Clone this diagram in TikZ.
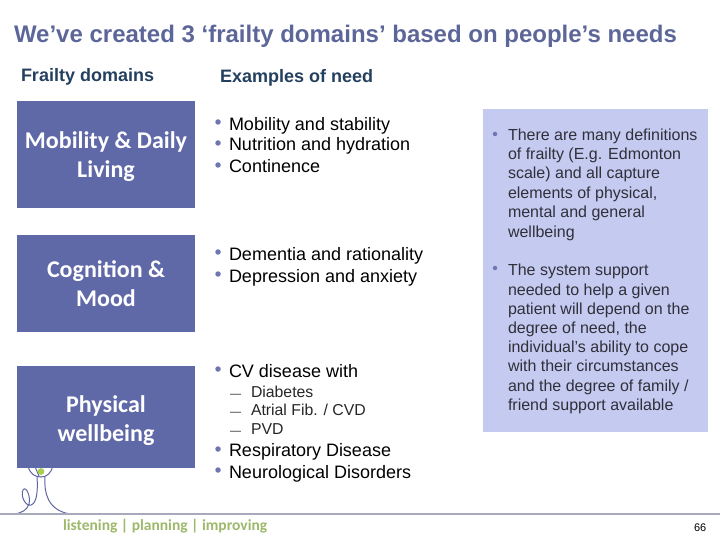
\documentclass[tikz,border=0pt]{standalone}
\usepackage{fontspec}
\setmainfont{Liberation Sans}
\newfontfamily\calib{Carlito}
\definecolor{boxblue}{HTML}{6069A8}
\definecolor{panelblue}{HTML}{C5CAF0}
\definecolor{titleblue}{HTML}{5C6699}
\definecolor{headnavy}{HTML}{24405F}
\definecolor{bulletblue}{HTML}{7076B0}
\definecolor{rulegray}{HTML}{A9A9BC}
\definecolor{logogreen}{HTML}{9DB86A}
\definecolor{dotgreen}{HTML}{A9CF4F}
\definecolor{logoblue}{HTML}{5F66A0}
\definecolor{paneltext}{HTML}{30303A}
\tikzset{
 tx/.style={anchor=base west,inner sep=0pt,outer sep=0pt},
 domainbox/.style={fill=boxblue,draw=none,inner sep=0pt,outer sep=0pt,anchor=north west},
 domaintext/.style={text=white,align=center,font=\calib\bfseries\fontsize{24}{29}\selectfont,inner sep=0pt},
 head/.style={tx,text=headnavy,font=\bfseries\fontsize{18}{20}\selectfont},
 need/.style={tx,text=black,font=\fontsize{18}{20}\selectfont},
 sub/.style={tx,text=black!85,font=\fontsize{15.8}{18}\selectfont},
 subdash/.style={tx,text=black!85,font=\fontsize{11}{18}\selectfont},
 ptext/.style={tx,text=paneltext,font=\fontsize{16}{18}\selectfont},
 bul/.style={circle,fill=bulletblue,draw=none,minimum size=5.5pt,inner sep=0pt},
 logoline/.style={draw=logoblue,line width=1pt,line cap=round},
}
\begin{document}
\begin{tikzpicture}[x=1pt,y=-1pt]
\useasboundingbox (0,0) rectangle (720,540);
% logo behind boxes
\draw[logoline] (28,466) .. controls (30,474) and (35,477) .. (41,477);
\draw[logoline] (53,466) .. controls (51,473) and (47,477) .. (41,477);
\draw[logoline] (35,466) .. controls (36,470) and (38,473) .. (39,476);
\draw[logoline] (45,477) .. controls (44,492) and (47,510) .. (70,514);
\draw[logoline] (37,477) .. controls (38,490) and (37,503) .. (31,505) .. controls (26,507) and (20,496) .. (23,490) .. controls (26,485) and (31,497) .. (29,504) .. controls (27,510) and (22,513) .. (14,514);
\fill[dotgreen] (41,471.5) circle (3.4);
\draw[draw=rulegray,line width=1.4pt] (0,514) -- (720,514);
\node[tx,text=logogreen,font=\calib\bfseries\fontsize{15.5}{18}\selectfont] (tag) at (63,530) {listening | planning | improving};
% title
\node[tx,text=titleblue,font=\bfseries\fontsize{24}{28}\selectfont] (title) at (14,43) {We’ve created 3 ‘frailty domains’ based on people’s needs};
\node[head] (h1) at (21,82) {Frailty domains};
\node[head] (h2) at (220,83) {Examples of need};
% boxes
\node[domainbox,minimum width=178pt,minimum height=107pt] (b1) at (17,101) {};
\node[domainbox,minimum width=178pt,minimum height=97pt] (b2) at (17,235) {};
\node[domainbox,minimum width=178pt,minimum height=102pt] (b3) at (17,366) {};
\node[domaintext] (t1) at (106,157) {Mobility \& Daily\\Living};
\node[domaintext] (t2) at (106,283.5) {Cognition \&\\Mood};
\node[domaintext] (t3) at (106,421) {Physical\\wellbeing};
% needs
\node[bul] at (218,122) {}; \node[need] (n1) at (229,130.5) {Mobility and stability};
\node[bul] at (218,143) {}; \node[need] (n2) at (229,151) {Nutrition and hydration};
\node[bul] at (218,165) {}; \node[need] (n3) at (229,173) {Continence};
\node[bul] at (218,252) {}; \node[need] (n4) at (229,260) {Dementia and rationality};
\node[bul] at (218,274) {}; \node[need] (n5) at (229,282) {Depression and anxiety};
\node[bul] at (218,369) {}; \node[need] (n6) at (229,377) {CV disease with};
\node[subdash] (d1) at (230,397) {—}; \node[sub] (s1) at (251,397) {Diabetes};
\node[subdash] (d2) at (230,415) {—}; \node[sub] (s2) at (251,415) {Atrial Fib. / CVD};
\node[subdash] (d3) at (230,434) {—}; \node[sub] (s3) at (251,434) {PVD};
\node[bul] at (218,449) {}; \node[need] (n7) at (229,456) {Respiratory Disease};
\node[bul] at (218,470) {}; \node[need] (n8) at (229,478) {Neurological Disorders};
% panel
\node[fill=panelblue,draw=none,inner sep=0pt,outer sep=0pt,anchor=north west,minimum width=225pt,minimum height=323pt] (panel) at (483,109) {};
\node[bul,minimum size=4.5pt] at (495,134) {};
\node[ptext] (p1) at (508,141) {There are many definitions};
\node[ptext] (p2) at (508,160) {of frailty (E.g. Edmonton};
\node[ptext] (p3) at (508,179) {scale) and all capture};
\node[ptext] (p4) at (508,199) {elements of physical,};
\node[ptext] (p5) at (508,218) {mental and general};
\node[ptext] (p6) at (508,237) {wellbeing};
\node[bul,minimum size=4.5pt] at (495,268) {};
\node[ptext] (q1) at (508,275) {The system support};
\node[ptext] (q2) at (508,295) {needed to help a given};
\node[ptext] (q3) at (508,314) {patient will depend on the};
\node[ptext] (q4) at (508,333) {degree of need, the};
\node[ptext] (q5) at (508,352) {individual’s ability to cope};
\node[ptext] (q6) at (508,371) {with their circumstances};
\node[ptext] (q7) at (508,391) {and the degree of family /};
\node[ptext] (q8) at (508,410) {friend support available};
\node[tx,text=black,font=\fontsize{11}{13}\selectfont] (pg) at (694,531) {66};
\end{tikzpicture}
\end{document}
